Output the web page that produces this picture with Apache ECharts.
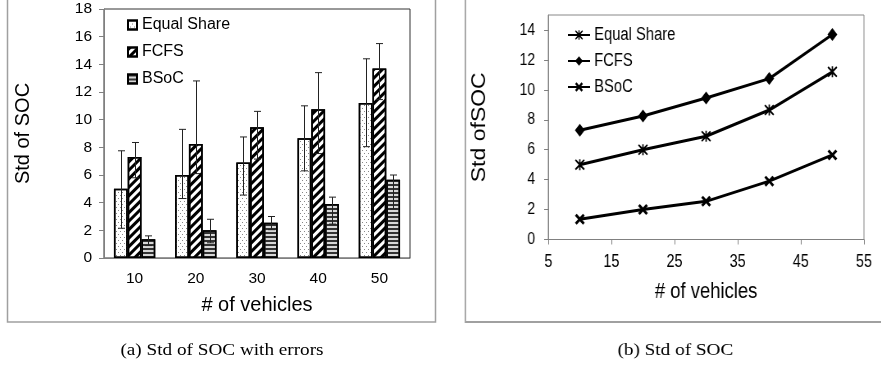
<!DOCTYPE html>
<html>
<head>
<meta charset="utf-8">
<script src="https://cdn.jsdelivr.net/npm/echarts@6/dist/echarts.min.js"></script>
<style>
html, body { margin: 0; padding: 0; background: #fff; }
#wrap { position: relative; width: 881px; height: 366px; overflow: hidden; }
#barChart { position: absolute; left: 0; top: 0; width: 440px; height: 366px; }
/* panel (b) in the figure is squeezed sideways, so draw it wider and squeeze it */
#lineChart { position: absolute; left: 440px; top: 0; width: 538px; height: 366px; transform: scaleX(0.82); transform-origin: 0 0; }
</style>
</head>
<body>
<div id="wrap">
  <div id="barChart"></div>
  <div id="lineChart"></div>
</div>
<script>
// values
const vehicles = ['10', '20', '30', '40', '50'];
const vehicleCounts = [10, 20, 30, 40, 50];
const equalShare = [5.0, 6.0, 6.9, 8.65, 11.2];
const fcfs = [7.3, 8.25, 9.45, 10.75, 13.7];
const bsoc = [1.35, 2.0, 2.55, 3.9, 5.65];

// error bar ends (upper / lower) from panel (a)
const equalShareHigh = [7.75, 9.3, 8.75, 11.0, 14.4];
const equalShareLow = [2.15, 4.3, 4.55, 6.3, 8.05];
const fcfsHigh = [8.35, 12.8, 10.6, 13.4, 15.5];
const fcfsLow = [5.8, 6.1, 7.15, 7.55, 11.45];
const bsocHigh = [1.6, 2.8, 3.0, 4.4, 6.0];
const bsocLow = [0.9, 1.1, 2.05, 2.45, 3.55];

const rightYTicks = [0, 2, 4, 6, 8, 10, 12, 14];
const rightXTicks = [5, 15, 25, 35, 45, 55];

const SANS = "'Liberation Sans', Arial, sans-serif";
const SERIF = "'Liberation Serif', 'Times New Roman', serif";
const BAR_RATIO = 0.225;
const SQUEEZE = 0.82;

const starPath = 'path://M1,0 L5,3.6 L9,0 L10,1.2 L6.2,5 L10,8.8 L9,10 L5,6.4 L1,10 L0,8.8 L3.8,5 L0,1.2 Z M4.3,0 L5.7,0 L5.7,10 L4.3,10 Z';
const crossPath = 'path://M0,1.8 L1.8,0 L5,3.2 L8.2,0 L10,1.8 L6.8,5 L10,8.2 L8.2,10 L5,6.8 L1.8,10 L0,8.2 L3.2,5 Z';

function errorBars(name, offsetIdx, high, low) {
    return {
        type: 'custom',
        name: name + ' err',
        z: 10,
        silent: true,
        data: high.map((h, i) => [i, h, low[i]]),
        encode: { x: 0, y: [1, 2] },
        renderItem: (params, api) => {
            const band = api.size([1, 0])[0];
            const x = Math.round(api.coord([api.value(0), 0])[0] + offsetIdx * band * BAR_RATIO) + 0.5;
            const top = api.coord([api.value(0), api.value(1)])[1];
            const bot = api.coord([api.value(0), api.value(2)])[1];
            const cap = 3.5;
            const style = { stroke: '#222', lineWidth: 1 };
            return {
                type: 'group',
                children: [
                    { type: 'line', shape: { x1: x, y1: top, x2: x, y2: bot }, style: style },
                    { type: 'line', shape: { x1: x - cap, y1: top, x2: x + cap, y2: top }, style: style },
                    { type: 'line', shape: { x1: x - cap, y1: bot, x2: x + cap, y2: bot }, style: style }
                ]
            };
        }
    };
}

function caption(text, cx, sx) {
    return {
        type: 'text',
        x: cx,
        y: 351,
        scaleX: sx,
        style: {
            text: text,
            font: '16px ' + SERIF,
            fill: '#000',
            textAlign: 'center', align: 'center',
            textVerticalAlign: 'middle', verticalAlign: 'middle'
        }
    };
}

const barStyle = { borderColor: '#000', borderWidth: 1.5 };

const barOption = {
    animation: false,
    graphic: [
        { type: 'rect', shape: { x: 7.5, y: -5, width: 428, height: 327 }, style: { fill: 'none', stroke: '#a0a0a0', lineWidth: 1.5 } },
        caption('(a) Std of SOC with errors', 222, 1.2)
    ],
    legend: {
        left: 127, top: 17, orient: 'vertical', padding: 0,
        itemWidth: 9, itemHeight: 9, itemGap: 11,
        icon: 'rect',
        data: ['Equal Share', 'FCFS', 'BSoC'],
        textStyle: { fontFamily: SANS, fontSize: 16, color: '#000' }
    },
    grid: { left: 104, top: 9, width: 306, height: 249, show: true, borderColor: '#333', borderWidth: 1 },
    xAxis: {
        type: 'category',
        data: vehicles,
        name: '# of vehicles', nameLocation: 'middle', nameGap: 37,
        nameTextStyle: { fontFamily: SANS, fontSize: 20, color: '#000' },
        axisLine: { lineStyle: { color: '#808080', width: 1 } },
        axisTick: { length: 5, lineStyle: { color: '#808080' } },
        axisLabel: { fontFamily: SANS, fontSize: 15.5, color: '#000', margin: 13 }
    },
    yAxis: {
        type: 'value', min: 0, max: 18, interval: 2,
        name: 'Std of SOC', nameLocation: 'middle', nameGap: 71,
        nameTextStyle: { fontFamily: SANS, fontSize: 20, color: '#000' },
        axisLine: { show: true, lineStyle: { color: '#808080', width: 1 } },
        axisTick: { show: true, length: 5, lineStyle: { color: '#808080' } },
        splitLine: { show: false },
        axisLabel: { fontFamily: SANS, fontSize: 15.5, color: '#000', margin: 12 }
    },
    series: [
        {
            name: 'Equal Share', type: 'bar', data: equalShare,
            barWidth: (BAR_RATIO * 100) + '%', barGap: '0%',
            itemStyle: Object.assign({ color: '#fff', decal: {
                symbol: 'rect', symbolSize: 1, color: '#888',
                dashArrayX: [[1, 3], [0, 2, 1, 1]], dashArrayY: [1, 2]
            } }, barStyle)
        },
        {
            name: 'FCFS', type: 'bar', data: fcfs,
            barWidth: (BAR_RATIO * 100) + '%', barGap: '0%',
            itemStyle: Object.assign({ color: '#fff', decal: {
                symbol: 'rect', symbolSize: 1, color: '#000',
                dashArrayX: [1, 0], dashArrayY: [2.5, 2.5], rotation: -Math.PI / 4
            } }, barStyle)
        },
        {
            name: 'BSoC', type: 'bar', data: bsoc,
            barWidth: (BAR_RATIO * 100) + '%', barGap: '0%',
            itemStyle: Object.assign({ color: '#d8d8d8', decal: {
                symbol: 'rect', symbolSize: 1, color: '#333',
                dashArrayX: [1, 0], dashArrayY: [2, 2]
            } }, barStyle)
        },
        errorBars('Equal Share', -1, equalShareHigh, equalShareLow),
        errorBars('FCFS', 0, fcfsHigh, fcfsLow),
        errorBars('BSoC', 1, bsocHigh, bsocLow)
    ]
};

function pairs(values) {
    return values.map((v, i) => [vehicleCounts[i], v]);
}

const lineBase = { type: 'line', symbolSize: [12, 11], lineStyle: { color: '#000', width: 3 }, itemStyle: { color: '#000' } };

// panel (b) coordinates below are in the unsqueezed space
const lineOption = {
    animation: false,
    graphic: [
        { type: 'rect', shape: { x: 31, y: -5, width: 560, height: 327 }, style: { fill: 'none', stroke: '#a0a0a0', lineWidth: 1.8 } },
        caption('(b) Std of SOC', 287, 1.2 / SQUEEZE)
    ],
    legend: {
        left: 155, top: 26, orient: 'vertical', padding: 0,
        itemWidth: 27, itemHeight: 12, itemGap: 8,
        data: ['Equal Share', 'FCFS', 'BSoC'],
        textStyle: { fontFamily: SANS, fontSize: 18, color: '#000' }
    },
    grid: { left: 132, top: 15, width: 385, height: 224.5, show: true, borderColor: '#888', borderWidth: 1 },
    xAxis: {
        type: 'value', min: 5, max: 55, interval: 10,
        name: '# of vehicles', nameLocation: 'middle', nameGap: 41,
        nameTextStyle: { fontFamily: SANS, fontSize: 22.5, color: '#000' },
        axisLine: { lineStyle: { color: '#808080' } },
        axisTick: { length: 5, customValues: rightXTicks, lineStyle: { color: '#808080' } },
        axisLabel: { customValues: rightXTicks, fontFamily: SANS, fontSize: 17.5, color: '#000', margin: 14 },
        splitLine: { show: false }
    },
    yAxis: {
        type: 'value', min: 0, max: 15, interval: 2,
        name: 'Std ofSOC', nameLocation: 'middle', nameGap: 72,
        nameTextStyle: { fontFamily: SANS, fontSize: 23, color: '#000' },
        axisLine: { show: true, lineStyle: { color: '#808080' } },
        axisTick: { show: true, length: 5, customValues: rightYTicks, lineStyle: { color: '#808080' } },
        axisLabel: { customValues: rightYTicks, fontFamily: SANS, fontSize: 17, color: '#000', margin: 16 },
        splitLine: { show: false }
    },
    series: [
        Object.assign({}, lineBase, { name: 'Equal Share', data: pairs(equalShare), symbol: starPath }),
        Object.assign({}, lineBase, { name: 'FCFS', data: pairs(fcfs), symbol: 'diamond', symbolSize: [12, 13] }),
        Object.assign({}, lineBase, { name: 'BSoC', data: pairs(bsoc), symbol: crossPath })
    ]
};

echarts.init(document.getElementById('barChart')).setOption(barOption);
echarts.init(document.getElementById('lineChart')).setOption(lineOption);
</script>
</body>
</html>
